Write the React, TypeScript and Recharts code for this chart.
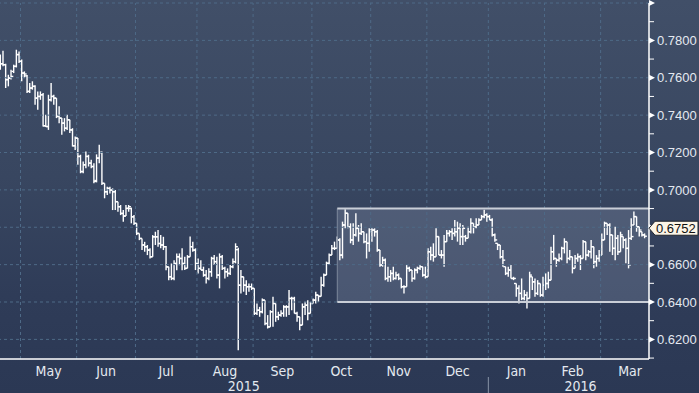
import React from 'react';
import { ComposedChart, Bar, XAxis, YAxis, ReferenceLine, ReferenceArea } from 'recharts';

// NZD/USD daily bars, 21 Apr 2015 - 22 Mar 2016, prices in pips (1e-4)
const openPips = [
  7670, 7675, 7670, 7590, 7598, 7634, 7661, 7724, 7688, 7625, 7610, 7527, 7545, 7554, 7491, 7500, 7509, 7343, 7339, 7482,
  7500, 7491, 7393, 7384, 7357, 7330, 7375, 7321, 7236, 7277, 7179, 7098, 7134, 7179, 7143, 7125,
  7050, 7170, 7200, 7035, 6990, 7008, 6999, 6990, 6937, 6910, 6874, 6860, 6901, 6900, 6856, 6821, 6767, 6740, 6705, 6696,
  6678, 6642, 6749, 6749, 6713, 6705, 6696, 6588, 6535, 6526, 6606, 6642, 6633,
  6606, 6580, 6642, 6696, 6678, 6607, 6580, 6571, 6544, 6526, 6562, 6633, 6616, 6544, 6642, 6580, 6562, 6553, 6589, 6616,
  6680, 6490, 6535, 6490, 6482, 6482, 6473, 6339, 6356, 6348, 6410, 6285, 6267, 6348, 6392,
  6321, 6330, 6339, 6374, 6374, 6419, 6419, 6339, 6321, 6276, 6374, 6383, 6339, 6392, 6410, 6437, 6430, 6490, 6544, 6607,
  6651, 6687, 6687, 6732, 6651, 6812, 6875, 6803, 6732, 6759, 6794, 6767, 6776, 6723, 6714,
  6776, 6785, 6776, 6678, 6598, 6624, 6526, 6535, 6553, 6526, 6544, 6526, 6482, 6482, 6580, 6571, 6526, 6571, 6580, 6589,
  6544, 6535, 6669, 6651, 6642, 6750, 6651, 6651, 6723, 6767, 6776, 6767, 6776, 6794, 6750,
  6750, 6741, 6776, 6821, 6803, 6812, 6839, 6857, 6866, 6857, 6839, 6759, 6714, 6705, 6642, 6589, 6553, 6571, 6526, 6499,
  6473, 6446, 6419, 6437, 6419, 6535, 6508, 6446, 6499, 6437, 6490, 6499, 6517, 6669,
  6633, 6624, 6633, 6687, 6723, 6633, 6642, 6580, 6633, 6642, 6633, 6723, 6651, 6669, 6696, 6616, 6633, 6651, 6732, 6821,
  6812, 6759, 6687, 6741, 6669, 6750, 6732, 6687, 6741, 6812, 6857, 6803, 6776, 6759,
];
const highPips = [
  7724, 7745, 7675, 7616, 7643, 7670, 7750, 7741, 7697, 7634, 7615, 7572, 7581, 7560, 7527, 7527, 7518, 7402, 7509, 7572,
  7509, 7491, 7447, 7384, 7384, 7402, 7375, 7330, 7286, 7277, 7188, 7152, 7205, 7188, 7161, 7143,
  7190, 7241, 7205, 7035, 7017, 7017, 7008, 6999, 6937, 6919, 6892, 6919, 6919, 6905, 6865, 6821, 6767, 6740, 6722, 6705,
  6687, 6758, 6776, 6785, 6758, 6749, 6700, 6588, 6606, 6624, 6660, 6660, 6687,
  6642, 6651, 6750, 6723, 6687, 6633, 6624, 6589, 6571, 6580, 6642, 6651, 6642, 6660, 6651, 6589, 6580, 6598, 6633, 6714,
  6690, 6571, 6535, 6517, 6499, 6499, 6473, 6392, 6374, 6419, 6410, 6330, 6356, 6428, 6392,
  6348, 6356, 6383, 6383, 6464, 6428, 6428, 6348, 6321, 6392, 6401, 6410, 6401, 6419, 6455, 6437, 6535, 6553, 6616, 6660,
  6705, 6723, 6750, 6741, 6830, 6896, 6875, 6821, 6821, 6875, 6812, 6821, 6776, 6767, 6794,
  6794, 6794, 6785, 6678, 6642, 6633, 6589, 6571, 6589, 6562, 6553, 6526, 6490, 6598, 6589, 6571, 6580, 6589, 6598, 6589,
  6589, 6687, 6696, 6714, 6794, 6750, 6678, 6759, 6785, 6785, 6794, 6839, 6830, 6821, 6812,
  6759, 6803, 6848, 6821, 6848, 6848, 6866, 6893, 6875, 6866, 6848, 6767, 6714, 6705, 6678, 6589, 6589, 6598, 6535, 6499,
  6490, 6526, 6464, 6455, 6562, 6535, 6526, 6517, 6499, 6535, 6553, 6562, 6696, 6759,
  6633, 6660, 6696, 6741, 6723, 6678, 6642, 6651, 6660, 6651, 6732, 6723, 6678, 6732, 6696, 6651, 6678, 6767, 6830, 6821,
  6821, 6759, 6803, 6759, 6776, 6750, 6741, 6785, 6848, 6884, 6857, 6803, 6776, 6767,
];
const lowPips = [
  7643, 7661, 7545, 7554, 7590, 7625, 7655, 7679, 7581, 7598, 7518, 7518, 7536, 7456, 7429, 7482, 7339, 7336, 7321, 7473,
  7456, 7384, 7357, 7295, 7313, 7321, 7304, 7232, 7214, 7134, 7089, 7089, 7116, 7125, 7116, 7036,
  7040, 7142, 7026, 6955, 6973, 6981, 6892, 6892, 6883, 6865, 6830, 6860, 6883, 6821, 6812, 6758, 6731, 6678, 6669, 6651,
  6633, 6642, 6705, 6696, 6687, 6678, 6570, 6517, 6517, 6517, 6570, 6597, 6570,
  6571, 6580, 6642, 6669, 6571, 6553, 6571, 6535, 6499, 6517, 6535, 6598, 6526, 6473, 6571, 6526, 6535, 6545, 6580, 6607,
  6142, 6446, 6455, 6437, 6455, 6464, 6330, 6330, 6321, 6339, 6276, 6258, 6267, 6267, 6294,
  6303, 6321, 6321, 6321, 6330, 6356, 6339, 6294, 6249, 6276, 6330, 6303, 6339, 6392, 6392, 6401, 6430, 6482, 6544, 6598,
  6651, 6678, 6687, 6624, 6633, 6794, 6794, 6714, 6705, 6750, 6723, 6759, 6714, 6633, 6669,
  6723, 6750, 6669, 6589, 6589, 6517, 6508, 6508, 6517, 6520, 6517, 6473, 6446, 6482, 6562, 6508, 6520, 6553, 6571, 6535,
  6526, 6535, 6624, 6616, 6642, 6651, 6633, 6589, 6723, 6750, 6732, 6750, 6723, 6705, 6705,
  6723, 6741, 6767, 6767, 6794, 6812, 6839, 6848, 6830, 6839, 6750, 6723, 6678, 6633, 6589, 6544, 6535, 6526, 6517, 6428,
  6392, 6410, 6410, 6365, 6419, 6464, 6428, 6437, 6428, 6428, 6464, 6473, 6517, 6624,
  6589, 6616, 6624, 6660, 6607, 6624, 6553, 6580, 6616, 6571, 6633, 6624, 6642, 6633, 6580, 6589, 6616, 6651, 6732, 6759,
  6669, 6651, 6624, 6651, 6669, 6687, 6607, 6580, 6732, 6812, 6776, 6750, 6750, 6741,
];
const closePips = [
  7675, 7670, 7590, 7598, 7607, 7661, 7724, 7688, 7625, 7620, 7527, 7545, 7554, 7491, 7500, 7509, 7343, 7339, 7482, 7500,
  7491, 7393, 7384, 7357, 7330, 7375, 7321, 7236, 7277, 7179, 7098, 7134, 7179, 7143, 7125, 7045,
  7170, 7200, 7035, 6990, 7008, 6999, 6990, 6937, 6910, 6874, 6860, 6901, 6910, 6856, 6821, 6767, 6740, 6705, 6696, 6678,
  6642, 6749, 6749, 6713, 6705, 6696, 6588, 6535, 6526, 6606, 6642, 6633, 6606,
  6580, 6642, 6696, 6678, 6607, 6580, 6571, 6544, 6526, 6562, 6633, 6616, 6544, 6642, 6580, 6562, 6553, 6589, 6616, 6696,
  6490, 6535, 6490, 6482, 6482, 6473, 6339, 6356, 6348, 6410, 6285, 6267, 6348, 6392, 6321,
  6330, 6339, 6374, 6374, 6419, 6419, 6339, 6321, 6276, 6374, 6383, 6339, 6392, 6410, 6437, 6430, 6490, 6544, 6607, 6651,
  6687, 6687, 6732, 6651, 6812, 6875, 6803, 6732, 6759, 6794, 6767, 6776, 6723, 6714, 6785,
  6785, 6776, 6678, 6598, 6624, 6526, 6535, 6553, 6526, 6544, 6526, 6482, 6482, 6580, 6571, 6526, 6571, 6580, 6589, 6544,
  6535, 6669, 6651, 6642, 6750, 6651, 6651, 6723, 6767, 6776, 6767, 6776, 6794, 6750, 6794,
  6741, 6776, 6821, 6803, 6812, 6839, 6857, 6866, 6857, 6839, 6759, 6732, 6705, 6642, 6624, 6553, 6571, 6526, 6526, 6473,
  6446, 6419, 6437, 6419, 6544, 6508, 6446, 6499, 6437, 6490, 6499, 6517, 6669, 6633,
  6624, 6633, 6687, 6723, 6633, 6642, 6580, 6633, 6642, 6633, 6723, 6651, 6669, 6696, 6616, 6633, 6651, 6732, 6821, 6812,
  6759, 6687, 6741, 6669, 6759, 6732, 6687, 6598, 6750, 6857, 6803, 6785, 6759, 6752,
];

// trading-day index of the first session of each month
const monthStarts = [8, 29, 51, 74, 95, 117, 139, 160, 183, 204, 225];
const monthNames = ['May', 'Jun', 'Jul', 'Aug', 'Sep', 'Oct', 'Nov', 'Dec', 'Jan', 'Feb', 'Mar'];
const monthLabelAt = [18, 39.5, 62, 84, 105.5, 127.5, 149, 171, 193, 214, 235.5];
const yearNames = ['2015', '2016'];
const yearLabelAt = [91, 217];
const yearBreak = 182.5;

const priceTicks = [
  0.61, 0.62, 0.63, 0.64, 0.65, 0.66, 0.67, 0.68, 0.69, 0.7,
  0.71, 0.72, 0.73, 0.74, 0.75, 0.76, 0.77, 0.78, 0.79, 0.8,
];
const gridPrices = [0.62, 0.64, 0.66, 0.68, 0.7, 0.72, 0.74, 0.76, 0.78, 0.8];

const channelFrom = 126;
const channelTop = 0.69;
const channelBottom = 0.64;

const X_DOMAIN: [number, number] = [-0.17, 242.6];
const Y_DOMAIN: [number, number] = [0.6095, 0.8];

const data = closePips.map((c, i) => ({
  i,
  open: openPips[i] / 10000,
  high: highPips[i] / 10000,
  low: lowPips[i] / 10000,
  close: c / 10000,
  range: [lowPips[i] / 10000, highPips[i] / 10000],
}));
const lastClose = data[data.length - 1].close;
const monthBounds = monthStarts.map((s) => s - 0.5);

const GRID = '#4e6a87';
const LABEL = '#e4e9f0';
// the terminal lifts its last-price flag a little so it sits over the 0.68 label
const TAG_LIFT = 8;

function OhlcBar(props: any) {
  const { x, y, width, height, payload } = props;
  if (x == null || y == null || !payload) return null;
  const cx = x + width / 2;
  const top = Math.min(y, y + height);
  const h = Math.abs(height);
  const span = payload.high - payload.low;
  const py = (v: number) => (span > 0 ? top + ((payload.high - v) / span) * h : top);
  return (
    <g stroke="#ffffff" strokeWidth={1.4}>
      <line x1={cx} x2={cx} y1={top} y2={top + Math.max(h, 1)} />
      <line x1={cx - 2.3} x2={cx} y1={py(payload.open)} y2={py(payload.open)} />
      <line x1={cx} x2={cx + 2.3} y1={py(payload.close)} y2={py(payload.close)} />
    </g>
  );
}

function PriceTick(props: any) {
  const { x, payload } = props;
  const v = payload.value;
  if (v === lastClose) {
    const y = props.y - TAG_LIFT;
    return (
      <g>
        <polygon
          points={`${x},${y} ${x + 6},${y - 7} ${x + 49},${y - 7} ${x + 49},${y + 7} ${x + 6},${y + 7}`}
          fill="#fcf5e6"
          stroke="#20242c"
          strokeWidth={1}
        />
        <text x={x + 7} y={y} dy="0.36em" fontSize={13} fill="#111" fontFamily="'Liberation Sans', Arial, sans-serif">
          {v.toFixed(4)}
        </text>
      </g>
    );
  }
  const y = props.y;
  const k = Math.round(v * 100);
  if (k % 2 === 0) {
    return (
      <g>
        <polygon points={`${x},${y - 3} ${x + 6},${y} ${x},${y + 3}`} fill="#ffffff" />
        {k < 80 && (
          <text x={x + 8} y={y} dy="0.36em" fontSize={13} fill={LABEL} fontFamily="'Liberation Sans', Arial, sans-serif">
            {v.toFixed(4)}
          </text>
        )}
      </g>
    );
  }
  return <line x1={x} x2={x + 5} y1={y} y2={y} stroke="#ffffff" strokeWidth={1} />;
}

function MonthTick(props: any) {
  const { x, y, payload } = props;
  const k = monthLabelAt.indexOf(payload.value);
  return (
    <text x={x} y={y} dy="0.71em" textAnchor="middle" fontSize={14} fill={LABEL}
      fontFamily="'Liberation Sans Narrow', 'DejaVu Sans Condensed', sans-serif">
      {monthNames[k]}
    </text>
  );
}

function YearTick(props: any) {
  const { x, y, payload } = props;
  if (payload.value === yearBreak) {
    return <line x1={x} x2={x} y1={y - 4} y2={y + 14} stroke="#8793a6" strokeWidth={1} />;
  }
  const k = yearLabelAt.indexOf(payload.value);
  return (
    <text x={x} y={y} dy="0.71em" textAnchor="middle" fontSize={14} fill={LABEL}
      fontFamily="'Liberation Sans Narrow', 'DejaVu Sans Condensed', sans-serif">
      {yearNames[k]}
    </text>
  );
}

export default function App() {
  return (
    <div
      style={{
        position: 'absolute',
        left: 0,
        top: 0,
        width: 699,
        height: 393,
        background: 'linear-gradient(180deg, #414f68 0%, #384660 45%, #2f3c58 75%, #2b3854 100%)',
      }}
    >
      <ComposedChart width={699} height={393} data={data} margin={{ top: 3, right: 0, bottom: 0, left: 0 }}>
        <XAxis
          dataKey="i"
          type="number"
          domain={X_DOMAIN}
          allowDataOverflow
          ticks={monthBounds}
          interval={0}
          tick={false}
          tickSize={5}
          tickLine={{ stroke: '#ffffff' }}
          axisLine={{ stroke: '#ffffff', strokeWidth: 1.5 }}
          height={5}
        />
        <XAxis
          xAxisId="m"
          dataKey="i"
          type="number"
          domain={X_DOMAIN}
          allowDataOverflow
          ticks={monthLabelAt}
          interval={0}
          tick={<MonthTick />}
          tickSize={0}
          tickMargin={2}
          tickLine={false}
          axisLine={false}
          height={15}
        />
        <XAxis
          xAxisId="yr"
          dataKey="i"
          type="number"
          domain={X_DOMAIN}
          allowDataOverflow
          ticks={[yearLabelAt[0], yearBreak, yearLabelAt[1]]}
          interval={0}
          tick={<YearTick />}
          tickSize={0}
          tickMargin={2}
          tickLine={false}
          axisLine={false}
          height={14}
        />
        <YAxis
          orientation="right"
          type="number"
          domain={Y_DOMAIN}
          allowDataOverflow
          ticks={[...priceTicks, lastClose]}
          interval={0}
          tick={<PriceTick />}
          tickSize={0}
          tickMargin={0}
          tickLine={false}
          axisLine={{ stroke: '#ffffff', strokeWidth: 1.5 }}
          width={50}
        />
        {gridPrices.map((p) => (
          <ReferenceLine key={`h${p}`} y={p} stroke={GRID} strokeDasharray="3 3" />
        ))}
        {monthBounds.map((b) => (
          <ReferenceLine key={`v${b}`} x={b} stroke={GRID} strokeDasharray="3 3" />
        ))}
        <ReferenceArea
          x1={channelFrom}
          x2={X_DOMAIN[1]}
          y1={channelBottom}
          y2={channelTop}
          fill="#c9d3e8"
          fillOpacity={0.18}
          stroke="none"
        />
        <ReferenceLine
          segment={[{ x: channelFrom, y: channelBottom }, { x: channelFrom, y: channelTop }]}
          stroke="#7e899c"
          strokeWidth={1}
        />
        <ReferenceLine
          segment={[{ x: channelFrom, y: channelTop }, { x: X_DOMAIN[1], y: channelTop }]}
          stroke="#c9ced7"
          strokeWidth={2}
        />
        <ReferenceLine
          segment={[{ x: channelFrom, y: channelBottom }, { x: X_DOMAIN[1], y: channelBottom }]}
          stroke="#c9ced7"
          strokeWidth={2}
        />
        <Bar dataKey="range" barSize={3} shape={<OhlcBar />} isAnimationActive={false} />
      </ComposedChart>
    </div>
  );
}
